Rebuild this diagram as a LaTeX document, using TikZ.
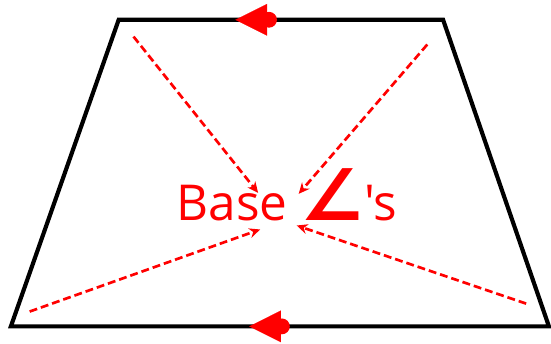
\documentclass[tikz,border=0pt]{standalone}
\usepackage{fontspec}
\newfontfamily\labelfont{Open Sans}
\newfontfamily\symfont{DejaVu Sans}
\usetikzlibrary{arrows.meta}

\begin{document}
\begin{tikzpicture}[x=1pt, y=-1pt, line join=miter]
  % ---- styles ----
  \def\bigarr{-{Triangle[width=32pt,length=32pt]}}
  \tikzset{
    edge/.style={line width=4.2pt},
    ray/.style={red, line width=2.7pt, dash pattern=on 8pt off 4pt,
      -{Stealth[length=11pt,width=10pt]}},
  }

  % ── trapezoid corners ──
  \coordinate (TL) at (120,20);
  \coordinate (TR) at (448,20);
  \coordinate (BR) at (555,330);
  \coordinate (BL) at (11,330);
  \draw[edge] (BL) -- (BR) -- (TR) -- (TL) -- cycle;

  % ── parallel-side arrows (pointing left) ──
  \coordinate (topTip) at (238,20);
  \coordinate (topBack) at (272,20);
  \coordinate (botTip) at (252,330);
  \coordinate (botBack) at (285,330);
  \fill[red] (topBack) circle (8);
  \draw[red, line width=0.1pt, \bigarr] (topBack) -- (topTip);
  \fill[red] (botBack) circle (8);
  \draw[red, line width=0.1pt, \bigarr] (botBack) -- (botTip);

  % ── label ──
  \node[red, inner sep=0pt, font=\labelfont\fontsize{50}{54}\selectfont] (lbl) at (290,197)
    {Base {\symfont\bfseries\fontsize{72}{74}\selectfont ∠}'s};

  % ── dashed rays into the label ──
  \coordinate (s1) at (135,37);  \coordinate (e1) at (261,195);
  \coordinate (s2) at (432,45);  \coordinate (e2) at (302,196);
  \coordinate (s3) at (30,315);  \coordinate (e3) at (263,232);
  \coordinate (s4) at (532,307); \coordinate (e4) at (300,228);
  \foreach \i in {1,...,4} \draw[ray] (s\i) -- (e\i);

  \path[use as bounding box] (0,0) rectangle (551,347);
\end{tikzpicture}
\end{document}
